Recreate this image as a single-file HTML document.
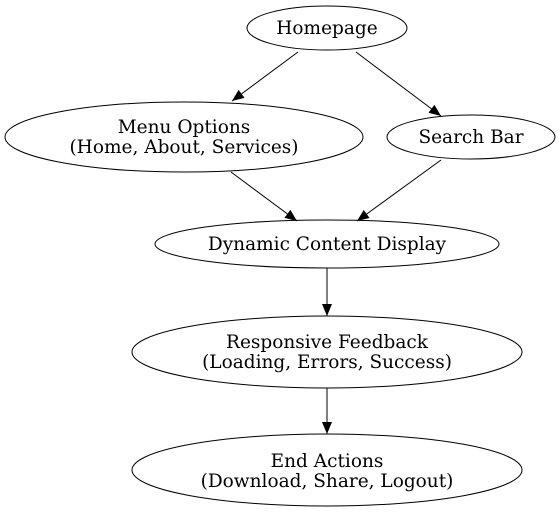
<!DOCTYPE html>
<html><head><meta charset="utf-8"><style>html,body{margin:0;padding:0;background:#fff}</style></head>
<body>
<svg width="560" height="514" viewBox="0 0 560 514" xmlns="http://www.w3.org/2000/svg" font-family="DejaVu Serif, serif" font-size="18.5" text-anchor="middle">
<defs><marker id="a" markerWidth="12" markerHeight="10" refX="12" refY="5" orient="auto" markerUnits="userSpaceOnUse"><path d="M0,0 L12,5 L0,10 z" fill="#000"/></marker></defs>
<g fill="none" stroke="#000" stroke-width="1">
<ellipse cx="327" cy="28" rx="80" ry="22"/>
<ellipse cx="184" cy="137" rx="179" ry="35"/>
<ellipse cx="471" cy="137" rx="84" ry="22"/>
<ellipse cx="327" cy="244" rx="172" ry="24"/>
<ellipse cx="327" cy="352" rx="195" ry="36"/>
<ellipse cx="327" cy="470" rx="195" ry="36"/>
<line x1="298" y1="52" x2="232" y2="101" marker-end="url(#a)"/>
<line x1="356" y1="52" x2="441" y2="116" marker-end="url(#a)"/>
<line x1="231" y1="172" x2="297" y2="221" marker-end="url(#a)"/>
<line x1="441" y1="160" x2="357" y2="221" marker-end="url(#a)"/>
<line x1="327" y1="268" x2="327" y2="316" marker-end="url(#a)"/>
<line x1="327" y1="388" x2="327" y2="434" marker-end="url(#a)"/>
</g>
<text x="327" y="34">Homepage</text>
<text x="184" y="133">Menu Options</text>
<text x="184" y="153">(Home, About, Services)</text>
<text x="471" y="143">Search Bar</text>
<text x="327" y="250">Dynamic Content Display</text>
<text x="327" y="348">Responsive Feedback</text>
<text x="327" y="368">(Loading, Errors, Success)</text>
<text x="327" y="467">End Actions</text>
<text x="327" y="487">(Download, Share, Logout)</text>
</svg>
</body></html>
